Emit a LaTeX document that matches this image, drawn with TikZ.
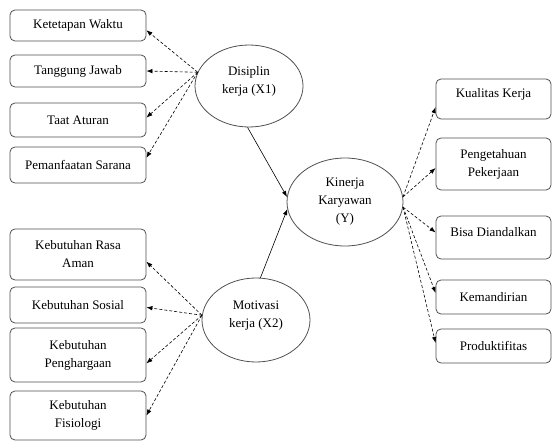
\documentclass[tikz,border=0pt]{standalone}
\usepackage{fontspec}
\setmainfont{Liberation Serif}
\usetikzlibrary{arrows.meta,shapes.geometric}
\definecolor{rim}{HTML}{505050}
\begin{document}
\begin{tikzpicture}[x=1pt, y=-1pt,
  every node/.style={font=\fontsize{13}{18}\selectfont, align=center},
  box/.style={draw=rim, line width=0.8pt, rounded corners=5pt, inner sep=2pt},
  var/.style={draw=rim, line width=0.8pt, ellipse, inner sep=0pt},
  dep/.style={dashed, dash pattern=on 3pt off 2pt, line width=0.6pt, -{Latex[length=6pt,width=4.5pt]}},
  eff/.style={line width=0.6pt, -{Latex[length=6pt,width=4.5pt]}}]
\useasboundingbox (0,0) rectangle (552,441);
% latent variables
\node[var, minimum width=108pt, minimum height=82pt, text depth=12pt] (x1) at (249,86) {Disiplin\\kerja (X1)};
\node[var, minimum width=108pt, minimum height=84pt, text depth=12pt] (x2) at (256,320) {Motivasi\\kerja (X2)};
\node[var, minimum width=116pt, minimum height=88pt] (y) at (345,202) {Kinerja\\Karyawan\\(Y)};
% indicators X1 and X2
\foreach \i/\yy/\h/\txt in {1/25.5/31/{Ketetapan Waktu}, 2/71/32/{Tanggung Jawab}, 3/120/34/{Taat Aturan},
  4/165/36/{Pemanfaatan Sarana}, 5/254.5/51/{Kebutuhan Rasa\\Aman}, 6/305/36/{Kebutuhan Sosial},
  7/355/54/{Kebutuhan\\Penghargaan}, 8/415.5/49/{Kebutuhan\\Fisiologi}}
  \node[box, minimum width=136pt, minimum height=\h pt] (k\i) at (78,\yy) {\txt};
% indicators Y
\node[box, minimum width=115pt, minimum height=40pt, text depth=12pt] (r1) at (493.5,99) {Kualitas Kerja};
\node[box, minimum width=115pt, minimum height=52pt] (r2) at (493.5,164) {Pengetahuan\\Pekerjaan};
\node[box, minimum width=115pt, minimum height=43pt, text depth=12pt] (r3) at (493.5,237.5) {Bisa Diandalkan};
\node[box, minimum width=115pt, minimum height=34pt] (r4) at (493.5,297) {Kemandirian};
\node[box, minimum width=115pt, minimum height=34pt] (r5) at (493.5,346) {Produktifitas};
\foreach \i/\a in {1/356,2/0,3/2,4/6} \draw[dep] (x1.165) -- (k\i.\a);
\foreach \i/\a in {5/354,6/358,7/353,8/0} \draw[dep] (x2.175) -- (k\i.\a);
\foreach \i/\a in {1/188,2/184} \draw[dep] (y.5) -- (r\i.\a);
\foreach \i/\a in {3/175.5,4/176,5/177} \draw[dep] (y.355) -- (r\i.\a);
\draw[eff] (x1.268) -- (y.175);
\draw[eff] (x2.84) -- (y.187);
\end{tikzpicture}
\end{document}
